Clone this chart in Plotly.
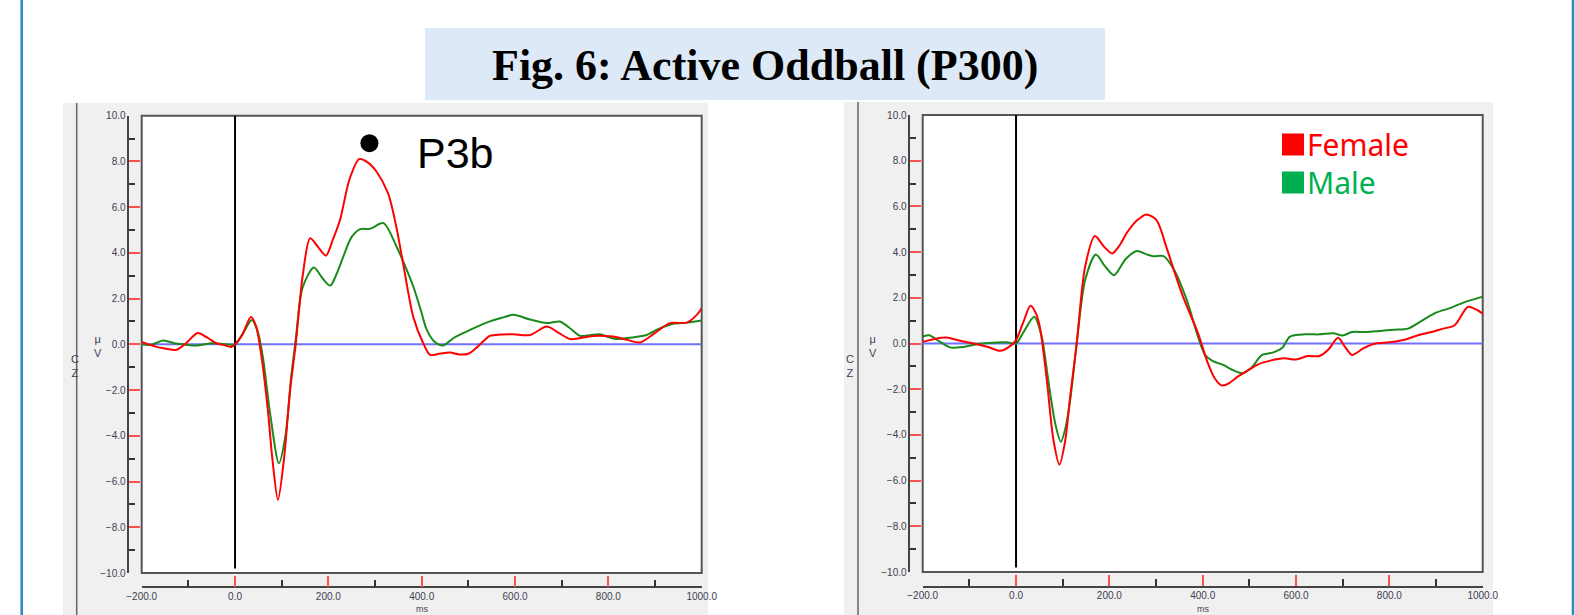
import plotly.graph_objects as go

W, H = 1575, 615

# ---------------- DATA ----------------
series_names = ["Female", "Male"]
series_colors = ["#ff0000", "#1a8a1a"]
legend_colors = ["#ff0000", "#00b050"]

# Left panel (Cz, target)
left_female_ms = [-200, -185, -170, -150, -125, -105, -80, -60, -40, -20, -8, 0, 15, 34, 45, 55, 70, 80, 92, 105,
                  118, 130, 145, 161, 180, 195, 210, 225, 245, 266, 285, 303, 328, 345, 360, 382, 403, 418, 440,
                  461, 480, 500, 520, 546, 570, 596, 632, 668, 690, 718, 740, 767, 810, 840, 868, 900, 932, 968,
                  990, 1000]
left_female_uv = [0.10, 0.0, -0.10, -0.18, -0.24, 0.05, 0.50, 0.30, 0.05, -0.05, -0.12, 0.0, 0.40, 1.20, 0.80,
                  -0.30, -2.8, -5.0, -6.80, -5.0, -2.0, 0.0, 3.0, 4.64, 4.20, 3.88, 4.6, 5.44, 7.2, 8.10, 7.95,
                  7.56, 6.60, 5.2, 3.56, 1.20, 0.06, -0.46, -0.40, -0.36, -0.44, -0.41, -0.10, 0.37, 0.43, 0.44,
                  0.41, 0.78, 0.55, 0.23, 0.28, 0.37, 0.34, 0.20, 0.08, 0.50, 0.93, 0.95, 1.30, 1.58]

left_male_ms = [-200, -180, -154, -130, -110, -80, -50, -20, 0, 16, 36, 48, 60, 75, 94, 108, 120, 130, 145, 169,
                187, 204, 218, 232, 250, 268, 289, 318, 346, 365, 382, 398, 411, 428, 446, 470, 496, 539, 570,
                597, 630, 668, 696, 715, 739, 760, 782, 800, 818, 850, 882, 910, 939, 970, 1000]
left_male_uv = [0.0, -0.02, 0.17, 0.05, 0.0, -0.05, 0.05, 0.0, 0.0, 0.45, 1.07, 0.6, -0.6, -3.0, -5.20, -4.0,
                -1.5, 0.2, 2.5, 3.36, 2.9, 2.57, 3.1, 3.84, 4.7, 5.04, 5.05, 5.30, 4.28, 3.4, 2.53, 1.5, 0.63,
                0.1, -0.05, 0.30, 0.56, 0.95, 1.15, 1.29, 1.10, 0.93, 1.00, 0.75, 0.37, 0.40, 0.44, 0.32, 0.23,
                0.30, 0.41, 0.70, 0.90, 0.95, 1.04]

# Right panel
right_female_ms = [-200, -175, -149, -120, -84, -60, -34, -15, 0, 15, 31, 42, 51, 66, 80, 93, 105, 116, 130, 148,
                   169, 188, 206, 222, 239, 260, 279, 301, 322, 340, 358, 390, 410, 425, 441, 455, 475, 495, 520,
                   545, 575, 600, 625, 650, 670, 690, 705, 720, 745, 770, 800, 830, 860, 890, 915, 940, 968, 985,
                   1000]
right_female_uv = [0.07, 0.20, 0.26, 0.12, -0.03, -0.15, -0.32, -0.15, 0.15, 0.9, 1.65, 1.35, 0.73, -1.6, -4.2,
                   -5.30, -4.3, -2.33, 0.0, 3.36, 4.70, 4.25, 3.94, 4.3, 4.89, 5.4, 5.65, 5.40, 4.23, 3.1, 2.04,
                   0.44, -0.8, -1.5, -1.84, -1.75, -1.45, -1.2, -0.90, -0.75, -0.65, -0.70, -0.55, -0.55, -0.25,
                   0.25, -0.15, -0.50, -0.20, 0.0, 0.05, 0.15, 0.35, 0.50, 0.65, 0.80, 1.60, 1.50, 1.30]

right_male_ms = [-200, -186, -165, -141, -113, -84, -49, -20, 0, 16, 39, 55, 69, 84, 96, 107, 117, 130, 148, 171,
                 190, 210, 235, 259, 280, 294, 316, 337, 366, 390, 405, 420, 445, 463, 485, 505, 527, 550, 570,
                 587, 620, 650, 680, 700, 720, 750, 780, 810, 840, 870, 900, 930, 960, 1000]
right_male_uv = [0.30, 0.36, 0.10, -0.17, -0.15, -0.03, 0.03, 0.05, 0.0, 0.50, 1.17, 0.30, -1.6, -3.5, -4.30,
                 -3.6, -2.33, 0.0, 2.77, 3.90, 3.4, 2.99, 3.7, 4.05, 3.9, 3.82, 3.82, 3.28, 1.90, 0.29, -0.5,
                 -0.75, -0.95, -1.15, -1.30, -1.05, -0.50, -0.40, -0.20, 0.30, 0.40, 0.40, 0.45, 0.35, 0.50,
                 0.50, 0.55, 0.60, 0.65, 1.00, 1.35, 1.55, 1.80, 2.05]

x_range = [-200, 1000]
y_range = [-10, 10]
x_tick_vals = [-200, 0, 200, 400, 600, 800, 1000]
y_tick_vals = [-10, -8, -6, -4, -2, 0, 2, 4, 6, 8, 10]
stim_onset_ms = 0
p3b_marker = (288, 8.8)
p3b_label = "P3b"
title_text = "Fig. 6: Active Oddball (P300)"
x_title = "ms"
y_title = "μ<br>V"
channel_label = "C<br>Z"

# ---------------- LAYOUT HELPERS ----------------
def px(x):
    return x / W

def py(y):
    return 1 - y / H

panels = [
    dict(box=(141.7, 115.7, 701.7, 573.0), grey=(63, 103, 708, 615), sep=76.7, yline=128.3, xline=587.3,
         data=[(left_female_ms, left_female_uv), (left_male_ms, left_male_uv)]),
    dict(box=(922.7, 115.0, 1482.7, 572.0), grey=(844, 102, 1493, 615), sep=858.0, yline=909.3, xline=586.5,
         data=[(right_female_ms, right_female_uv), (right_male_ms, right_male_uv)]),
]

fig = go.Figure()
shapes = []
annotations = []

# page borders
for bx in (21.7, 1573.0):
    shapes.append(dict(type="line", xref="paper", yref="paper", x0=px(bx), x1=px(bx), y0=0, y1=1,
                       line=dict(color="#2a8bc4", width=2.5), layer="below"))

# title box
shapes.append(dict(type="rect", xref="paper", yref="paper", x0=px(425), x1=px(1105), y0=py(100), y1=py(28),
                   fillcolor="#dde9f6", line=dict(width=0), layer="below"))
annotations.append(dict(xref="paper", yref="paper", x=px(765), y=py(65), text="<b>" + title_text + "</b>",
                        showarrow=False, xanchor="center", yanchor="middle",
                        font=dict(family="Liberation Serif", size=44, color="#000000")))

tick_font = dict(family="Liberation Sans", size=10, color="#404050")

for i, p in enumerate(panels):
    sfx = "" if i == 0 else str(i + 1)
    xa, ya = "x" + sfx, "y" + sfx
    x0, y0, x1, y1 = p["box"]
    gx0, gy0, gx1, gy1 = p["grey"]
    # grey panel and white plot box
    shapes.append(dict(type="rect", xref="paper", yref="paper", x0=px(gx0), x1=px(gx1), y0=py(gy1), y1=py(gy0),
                       fillcolor="#f0f0f0", line=dict(width=0), layer="below"))
    shapes.append(dict(type="line", xref="paper", yref="paper", x0=px(p["sep"]), x1=px(p["sep"]),
                       y0=py(gy1), y1=py(gy0), line=dict(color="#666666", width=1.5), layer="below"))
    shapes.append(dict(type="rect", xref="paper", yref="paper", x0=px(x0), x1=px(x1), y0=py(y1), y1=py(y0),
                       fillcolor="#ffffff", line=dict(color="#555555", width=2), layer="below"))
    # stimulus onset line
    shapes.append(dict(type="line", xref=xa, yref=ya, x0=stim_onset_ms, x1=stim_onset_ms, y0=-9.8, y1=10,
                       line=dict(color="#000000", width=2), layer="below"))
    # baseline
    fig.add_trace(go.Scatter(x=x_range, y=[0, 0], mode="lines", line=dict(color="#7070ff", width=2),
                             xaxis=xa, yaxis=ya, showlegend=False, hoverinfo="skip"))
    # series (draw male first so female on top like reference)
    for k in (1, 0):
        ms, uv = p["data"][k]
        fig.add_trace(go.Scatter(x=ms, y=uv, mode="lines", name=series_names[k],
                                 line=dict(color=series_colors[k], width=2, shape="spline", smoothing=0.8),
                                 xaxis=xa, yaxis=ya, showlegend=False))
    axis_common = dict(showgrid=False, zeroline=False, showline=True, linecolor="#444444", linewidth=1.5,
                       ticks="inside", tickcolor="#ff5050", tickwidth=1.5, ticklen=11, tickfont=tick_font,
                       tickformat=".1f", anchor="free", automargin=False)
    fig.update_layout(**{
        "xaxis" + sfx: dict(axis_common, domain=[px(x0), px(x1)], range=x_range, tickvals=x_tick_vals,
                            position=py(p["xline"]),
                            minor=dict(dtick=100, ticks="inside", ticklen=7, tickcolor="#333333", tickwidth=1.5)),
        "yaxis" + sfx: dict(axis_common, domain=[py(y1), py(y0)], range=y_range, tickvals=y_tick_vals,
                            position=px(p["yline"]), side="left",
                            minor=dict(dtick=1, ticks="inside", ticklen=6, tickcolor="#333333", tickwidth=1.5)),
    })
    # axis titles
    annotations.append(dict(xref="paper", yref="paper", x=px((x0 + x1) / 2), y=py(602.5), text=x_title,
                            showarrow=False, xanchor="center", yanchor="top", borderpad=0,
                            font=dict(family="Liberation Sans", size=9, color="#404050")))
    annotations.append(dict(xref="paper", yref="paper", x=px(p["sep"] + 15), y=py(346), text=y_title,
                            showarrow=False, font=dict(family="Liberation Sans", size=11, color="#404050")))
    annotations.append(dict(xref="paper", yref="paper", x=px(p["sep"] - 8), y=py(366), text=channel_label,
                            showarrow=False, font=dict(family="Liberation Sans", size=11, color="#404050")))

# P3b marker and label
fig.add_trace(go.Scatter(x=[p3b_marker[0]], y=[p3b_marker[1]], mode="markers",
                         marker=dict(color="#000000", size=18), xaxis="x", yaxis="y", showlegend=False))
annotations.append(dict(xref="x", yref="y", x=386, y=8.35, text=p3b_label, showarrow=False, xanchor="left",
                        yanchor="middle", font=dict(family="Liberation Sans", size=43, color="#000000")))

# Legend (right panel)
legend_rows_y = [144.5, 182.5]
for k, name in enumerate(series_names):
    yc = legend_rows_y[k]
    shapes.append(dict(type="rect", xref="paper", yref="paper", x0=px(1282), x1=px(1304), y0=py(yc + 11),
                       y1=py(yc - 11), fillcolor=legend_colors[k], line=dict(width=0)))
    annotations.append(dict(xref="paper", yref="paper", x=px(1305), y=py(yc), text=name, showarrow=False,
                            xanchor="left", yanchor="middle",
                            font=dict(family="Noto Sans", size=30, color=legend_colors[k])))

fig.update_layout(width=W, height=H, autosize=False,
                  margin=dict(l=0, r=0, t=0, b=0, pad=0, autoexpand=False),
                  paper_bgcolor="#ffffff", plot_bgcolor="rgba(0,0,0,0)",
                  shapes=shapes, annotations=annotations, showlegend=False)

fig.write_html("out.html", config={"displayModeBar": False},
               post_script="document.body.style.margin='0';document.body.style.overflow='hidden';")
